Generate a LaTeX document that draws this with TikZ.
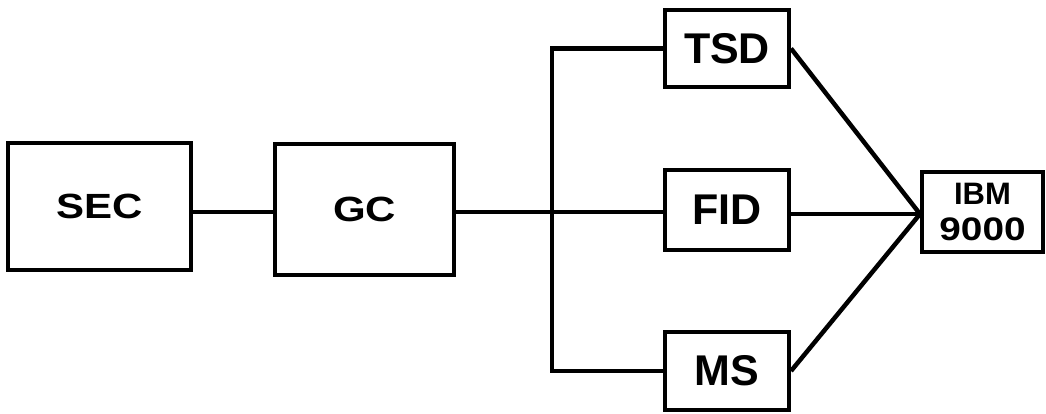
\documentclass[tikz,border=0pt]{standalone}
\usepackage{fontspec}
\setmainfont{Liberation Sans}
\begin{document}
\begin{tikzpicture}[x=1pt,y=1pt,
  blk/.style={draw=black, line width=4pt, rectangle, inner sep=0pt, align=center, font=\bfseries},
  wire/.style={draw=black, line width=4.5pt}]
\useasboundingbox (0,0) rectangle (1046,413);
\node[blk, minimum width=183pt, minimum height=127pt] (SEC) at (99.5,206.5)
  {\fontsize{35}{38}\selectfont\scalebox{1.2}[1]{SEC}};
\node[blk, minimum width=179pt, minimum height=131pt] (GC) at (364.5,203.5)
  {\fontsize{35}{38}\selectfont\scalebox{1.2}[1]{GC}};
\node[blk, minimum width=124pt, minimum height=77pt] (TSD) at (727,364.5)
  {\fontsize{43}{46}\selectfont TSD};
\node[blk, minimum width=124pt, minimum height=80pt] (FID) at (727,203)
  {\fontsize{43}{46}\selectfont FID};
\node[blk, minimum width=124pt, minimum height=78pt] (MS) at (727,42)
  {\fontsize{43}{46}\selectfont MS};
\node[blk, minimum width=121pt, minimum height=80pt,
  font=\bfseries\fontsize{31}{36}\selectfont] (IBM) at (982.5,201)
  {IBM\\\scalebox{1.25}[1.05]{9000}};
\coordinate (m) at (552,201);
\coordinate (cv) at (920,199);
\draw[wire] (SEC.east |- m) -- (GC.west |- m);
\draw[wire] (GC.east |- m) -- (FID.west |- m);
\draw[wire] (TSD.west) -| (m) |- (MS.west);
\draw[wire] (TSD.east) -- (cv);
\draw[wire] (FID.east |- cv) -- (cv);
\draw[wire] (MS.east) -- (cv);
\end{tikzpicture}
\end{document}
